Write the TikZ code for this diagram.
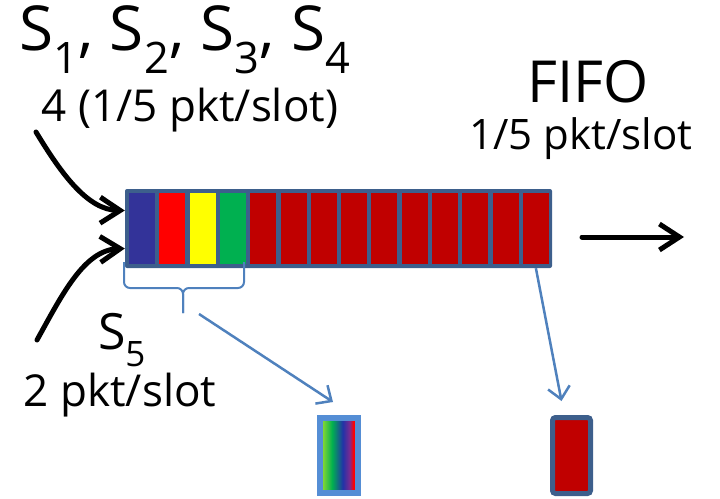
\documentclass[tikz,border=0pt]{standalone}
\usepackage{fontspec}
\setmainfont{Open Sans}
\usetikzlibrary{arrows.meta}

\definecolor{qframe}{HTML}{3D5F8C}
\definecolor{lblue}{HTML}{4F81BD}
\definecolor{boxblue}{HTML}{558ED5}
\definecolor{pktblue}{HTML}{333399}
\definecolor{pktred}{HTML}{FF0000}
\definecolor{pktyellow}{HTML}{FFFF00}
\definecolor{pktgreen}{HTML}{00B050}
\definecolor{pktdark}{HTML}{C00000}
\definecolor{mixlime}{HTML}{A8E22A}
\definecolor{mixblue}{HTML}{2233A8}
\definecolor{mixpurple}{HTML}{7A2A90}

\pgfdeclarehorizontalshading{mixed}{100bp}{color(0bp)=(mixlime); color(25bp)=(mixlime);
  color(41bp)=(pktgreen); color(55bp)=(mixblue); color(64bp)=(mixpurple);
  color(69bp)=(pktred); color(100bp)=(pktred)}

\tikzset{
  cell/.style={minimum width=26, minimum height=71, inner sep=0},
  lbl/.style={inner sep=0},
  bigarrow/.style={line width=5, line cap=round, -{Straight Barb[length=20, width=26]}},
  thinarrow/.style={lblue, line width=2.5, -{Straight Barb[length=12, width=22]}}
}

\begin{document}
\begin{tikzpicture}[x=1pt, y=-1pt]
  \useasboundingbox (0,0) rectangle (720,498);

  \node[lbl, font=\fontsize{62}{62}\selectfont] (srcs) at (185,40)
    {S\textsubscript{1}, S\textsubscript{2}, S\textsubscript{3}, S\textsubscript{4}};
  \node[lbl, font=\fontsize{44}{44}\selectfont] (rateA) at (190,110) {4 (1/5 pkt/slot)};
  \node[lbl, font=\fontsize{58}{58}\selectfont] (fifo) at (588,82) {FIFO};
  \node[lbl, font=\fontsize{42}{42}\selectfont] (rateQ) at (581,139) {1/5 pkt/slot};
  \node[lbl, font=\fontsize{50}{50}\selectfont] (srcE) at (122,340) {S\textsubscript{5}};
  \node[lbl, font=\fontsize{44}{44}\selectfont] (rateE) at (120,395) {2 pkt/slot};

  \node[fill=qframe, rounded corners=2, minimum width=427, minimum height=79, inner sep=0]
    (queue) at (338.5,228.5) {};
  \node[cell, fill=pktblue] (c1) at (142,228.5) {};
  \node[cell, fill=pktred] (c2) at (172.3,228.5) {};
  \node[cell, fill=pktyellow] (c3) at (202.6,228.5) {};
  \node[cell, fill=pktgreen] (c4) at (232.9,228.5) {};
  \foreach \i in {5,...,14}
    \node[cell, fill=pktdark] (c\i) at ({142+(\i-1)*30.3},228.5) {};

  \draw[lblue, line width=2, rounded corners=6] (124,262) -- (124,288) -- (183,288) -- (183,313);
  \draw[lblue, line width=2, rounded corners=6] (183,313) -- (183,288) -- (244,288) -- (244,262);
  \coordinate (brtip) at (199,314);

  \node[draw=boxblue, line width=6, shading=mixed, minimum width=38, minimum height=75, inner sep=0]
    (mixbox) at (339,455.5) {};
  \node[draw=qframe, fill=pktdark, line width=5, rounded corners=3, minimum width=38,
    minimum height=76, inner sep=0] (redbox) at (571.5,455.5) {};

  \draw[thinarrow] (brtip) -- ([xshift=-6, yshift=13]mixbox.north);
  \draw[thinarrow] (c14.south |- queue.south) -- ([xshift=-10, yshift=14]redbox.north);

  \coordinate (inA) at (36,132);
  \coordinate (inE) at (37,340);
  \draw[bigarrow] (inA) .. controls (62,175) and (88,210) .. ([yshift=18]queue.west);
  \draw[bigarrow] (inE) .. controls (62,295) and (84,250) .. ([yshift=-20]queue.west);

  \coordinate (outA) at (582,237);
  \coordinate (outB) at (684,237);
  \draw[bigarrow] (outA) -- (outB);
\end{tikzpicture}
\end{document}
